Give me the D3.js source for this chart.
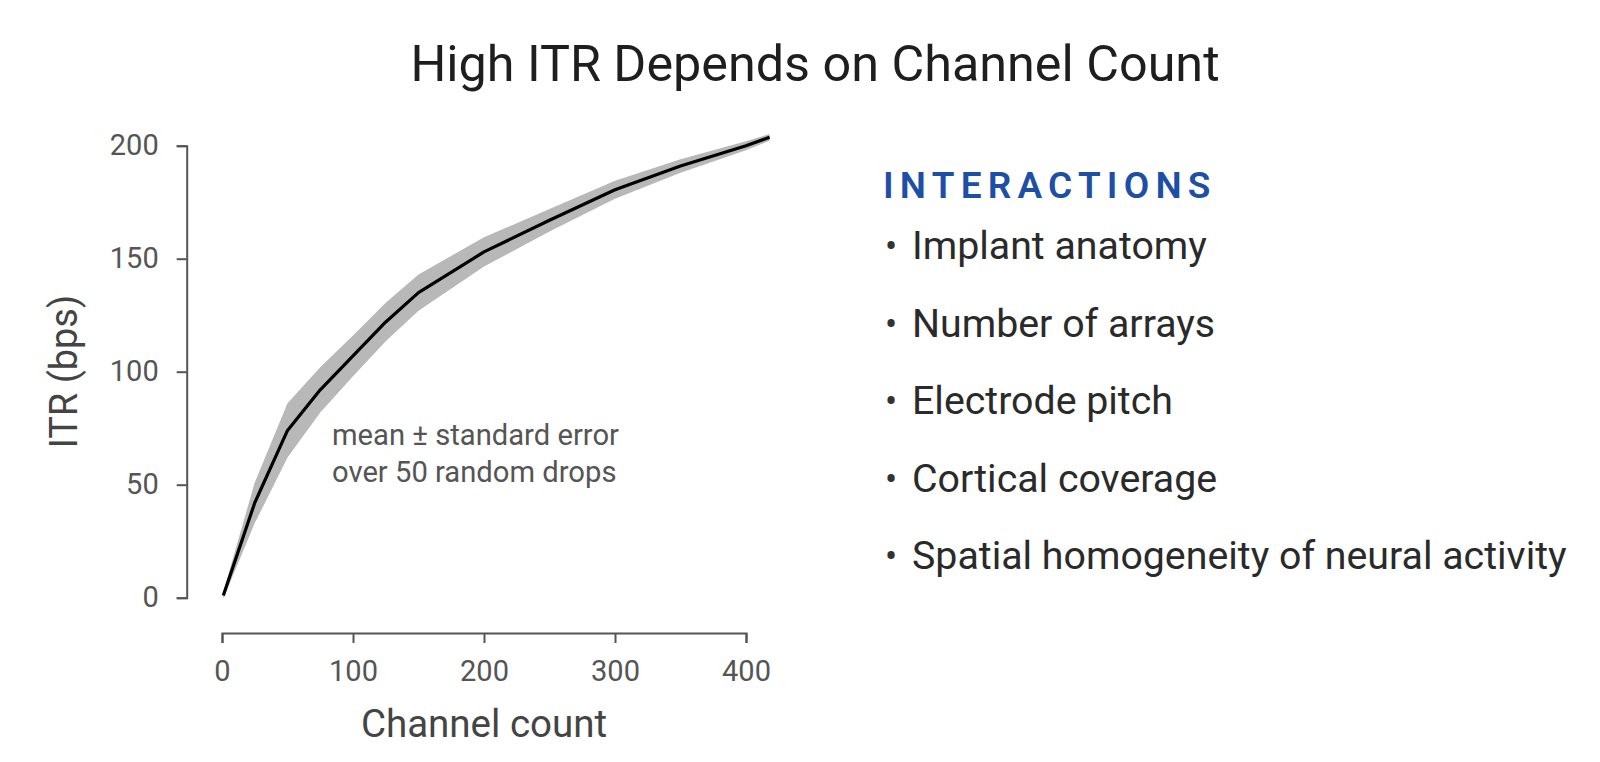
<!DOCTYPE html>
<html>
<head>
<meta charset="utf-8">
<script src="https://cdn.jsdelivr.net/npm/d3@7"></script>
<style>
  html, body { margin: 0; padding: 0; background: #fff; }
  svg { display: block; font-family: Roboto, "Noto Sans", sans-serif; }
</style>
</head>
<body>
<svg width="1600" height="762"></svg>
<script>
const w = 1600; // svg width
const h = 762; // svg height

// Data
const channels = [1, 25, 50, 75, 100, 125, 150, 200, 250, 300, 350, 400, 418];
const itrMean = [1, 42, 74, 92, 107, 122, 135, 153, 167, 180.5, 191, 200, 203.7];
const itrSE = [1.5, 9, 12, 10, 9, 8.5, 8, 6.5, 5, 4, 3, 2, 1.5];
const xTicks = [0, 100, 200, 300, 400];
const yTicks = [0, 50, 100, 150, 200];
const interactions = [
  'Implant anatomy',
  'Number of arrays',
  'Electrode pitch',
  'Cortical coverage',
  'Spatial homogeneity of neural activity',
];

const points = channels.map((c, i) => ({ c, m: itrMean[i], se: itrSE[i] }));

const svg = d3.select('svg');

const xScale = d3.scaleLinear().domain([0, 400]).range([222, 746]);
const yScale = d3.scaleLinear().domain([0, 200]).range([597.7, 145.7]);

// Title
svg.append('text')
  .attr('x', 815)
  .attr('y', 81)
  .attr('text-anchor', 'middle')
  .attr('font-size', 50.3)
  .attr('fill', '#1e1e1e')
  .text('High ITR Depends on Channel Count');

// Axes
const xAxis = d3.axisBottom(xScale)
  .tickValues(xTicks)
  .tickSize(10)
  .tickSizeOuter(10)
  .tickPadding(17);
const yAxis = d3.axisLeft(yScale)
  .tickValues(yTicks)
  .tickSize(10)
  .tickSizeOuter(10)
  .tickPadding(18);

const gx = svg.append('g').attr('transform', 'translate(0,633)').call(xAxis);
const gy = svg.append('g').attr('transform', 'translate(186.7,0)').call(yAxis);

[gx, gy].forEach((g) => {
  g.select('.domain').attr('stroke', '#555').attr('stroke-width', 2);
  g.selectAll('.tick line').attr('stroke', '#555').attr('stroke-width', 2);
  g.selectAll('.tick text')
    .attr('font-family', 'Roboto')
    .attr('font-size', 29)
    .attr('fill', '#555');
});

// Axis titles
svg.append('text')
  .attr('x', (xScale(0) + xScale(400)) / 2)
  .attr('y', 737)
  .attr('text-anchor', 'middle')
  .attr('font-size', 38.5)
  .attr('fill', '#444')
  .text('Channel count');

svg.append('text')
  .attr('transform', `translate(77,${(yScale(0) + yScale(200)) / 2}) rotate(-90)`)
  .attr('text-anchor', 'middle')
  .attr('font-size', 38)
  .attr('fill', '#444')
  .text('ITR (bps)');

// Standard error band
const band = d3.area()
  .x((d) => xScale(d.c))
  .y0((d) => yScale(d.m - d.se))
  .y1((d) => yScale(d.m + d.se));

svg.append('path')
  .datum(points)
  .attr('d', band)
  .attr('fill', '#b8b8b8');

// Mean line
const line = d3.line()
  .x((d) => xScale(d.c))
  .y((d) => yScale(d.m));

svg.append('path')
  .datum(points)
  .attr('d', line)
  .attr('fill', 'none')
  .attr('stroke', '#000')
  .attr('stroke-width', 3.2)
  .attr('stroke-linejoin', 'round');

// Annotation
const note = svg.append('text')
  .attr('x', 332)
  .attr('y', 445)
  .attr('font-size', 29.2)
  .attr('fill', '#555');
note.append('tspan').attr('x', 332).text('mean ± standard error');
note.append('tspan').attr('x', 332).attr('dy', 36.5).text('over 50 random drops');

// Right-hand list
svg.append('text')
  .attr('x', 883)
  .attr('y', 198)
  .attr('font-size', 37)
  .attr('font-weight', 600)
  .attr('letter-spacing', 6.2)
  .attr('fill', '#1d4fa6')
  .text('INTERACTIONS');

const items = svg.append('g')
  .selectAll('g')
  .data(interactions)
  .enter()
  .append('g')
  .attr('transform', (d, i) => `translate(0,${259 + i * 77.5})`);

items.append('text')
  .attr('x', 885)
  .attr('font-size', 36)
  .attr('fill', '#333')
  .text('•');

items.append('text')
  .attr('x', 912)
  .attr('font-size', 39.3)
  .attr('fill', '#2a2a2a')
  .text((d) => d);
</script>
</body>
</html>
